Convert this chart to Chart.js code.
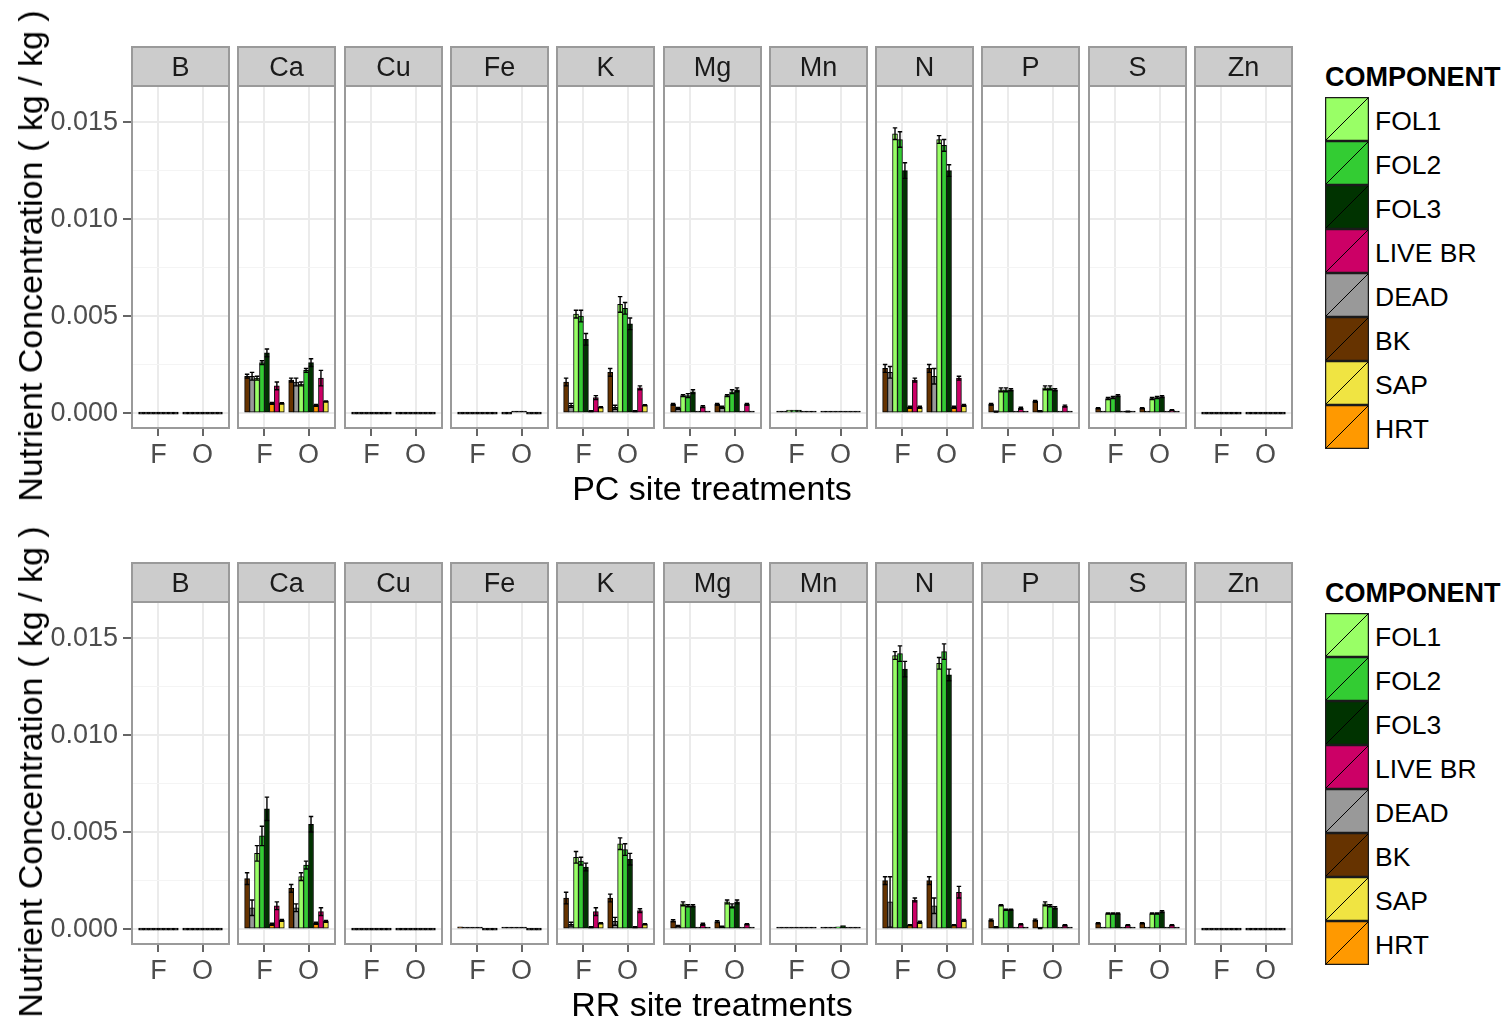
<!DOCTYPE html>
<html lang="en">
<head>
<meta charset="utf-8">
<title>Nutrient concentration by tree component</title>
<script src="https://cdn.jsdelivr.net/npm/chart.js@4.4.1/dist/chart.umd.min.js"></script>
<style>
  html, body { margin: 0; padding: 0; background: #fff; }
  body { position: relative; width: 1505px; height: 1022px; overflow: hidden;
         font-family: "Liberation Sans", Arial, Helvetica, sans-serif; }
  canvas.panel { position: absolute; }
  .xtitle { position: absolute; left: 132px; width: 1160px; text-align: center;
            font-size: 34px; line-height: 40px; color: #000; white-space: nowrap; }
  .ytitle { position: absolute; left: 30px; width: 0; height: 0; }
  .ytitle span { position: absolute; left: 0; top: 0; transform: translate(-50%, -50%) rotate(-90deg);
                 font-size: 34px; line-height: 40px; color: #000; white-space: nowrap; }
  .legend { position: absolute; left: 1325px; }
  .legend .ltitle { font-size: 27px; font-weight: bold; line-height: 32px; height: 36px; color: #000; }
  .legend .key { display: flex; align-items: center; height: 44px; }
  .legend .key svg { display: block; flex: none; }
  .legend .key span { font-size: 26.5px; margin-left: 6px; margin-top: 4px; color: #000; white-space: nowrap; }
</style>
</head>
<body>
<script>
// ---- categories ----
const nutrients  = ['B', 'Ca', 'Cu', 'Fe', 'K', 'Mg', 'Mn', 'N', 'P', 'S', 'Zn'];
const treatments = ['F', 'O'];
const components = ['BK', 'DEAD', 'FOL1', 'FOL2', 'FOL3', 'HRT', 'LIVE BR', 'SAP'];
const componentColors = ['#663300', '#999999', '#99FF66', '#33CC33', '#003300', '#FF9900', '#CC0066', '#F0E442'];
const legendOrder = ['FOL1', 'FOL2', 'FOL3', 'LIVE BR', 'DEAD', 'BK', 'SAP', 'HRT'];
const sites = ['PC', 'RR'];
const yTickValues = [0, 0.0025, 0.005, 0.0075, 0.010, 0.0125, 0.015];

// ---- mean concentration (kg/kg): one row per nutrient, [F values, O values], components in order above ----
const pcMean = [
  [[0, 0, 0, 0, 0, 0, 0, 0], [0, 0, 0, 0, 0, 0, 0, 0]],                                                       // B
  [[0.0019, 0.0019, 0.0018, 0.0026, 0.0031, 0.0005, 0.0014, 0.0005], [0.0017, 0.0016, 0.0015, 0.0022, 0.0026, 0.0004, 0.0018, 0.0006]], // Ca
  [[0, 0, 0, 0, 0, 0, 0, 0], [0, 0, 0, 0, 0, 0, 0, 0]],                                                       // Cu
  [[0, 0, 0, 0, 0, 0, 0, 0], [0, 0, 0.00004, 0.00004, 0.00004, 0, 0, 0]],                                     // Fe
  [[0.0016, 0.0004, 0.0051, 0.0050, 0.0038, 0.0001, 0.0008, 0.0003], [0.0021, 0.0003, 0.0056, 0.0054, 0.0046, 0.0001, 0.0013, 0.0004]], // K
  [[0.00045, 0.00024, 0.0009, 0.0009, 0.0011, 0.00003, 0.00033, 0.0001], [0.00045, 0.0003, 0.0009, 0.0011, 0.0012, 0.00003, 0.00045, 0.0001]], // Mg
  [[0.00005, 0.00002, 0.00015, 0.00015, 0.00015, 0.00001, 0.00003, 0.00001], [0.00002, 0.00002, 0.0001, 0.0001, 0.0001, 0.00001, 0.00002, 0.00001]], // Mn
  [[0.0023, 0.0021, 0.0144, 0.0141, 0.0125, 0.0003, 0.0017, 0.0003], [0.0023, 0.0019, 0.0141, 0.0138, 0.0125, 0.0003, 0.0018, 0.0004]], // N
  [[0.00045, 0.00007, 0.0012, 0.0012, 0.0012, 0.00002, 0.00025, 0.00005], [0.0006, 0.0001, 0.0013, 0.0013, 0.0012, 0.00002, 0.00036, 0.00005]], // P
  [[0.00025, 0.00005, 0.00075, 0.0008, 0.0009, 0.00001, 0.00008, 0.00008], [0.00025, 0.00005, 0.00075, 0.0008, 0.00085, 0.00001, 0.00015, 0.00003]], // S
  [[0, 0, 0, 0, 0, 0, 0, 0], [0, 0, 0, 0, 0, 0, 0, 0]]                                                        // Zn
];
const pcErr = [
  [[0, 0, 0, 0, 0, 0, 0, 0], [0, 0, 0, 0, 0, 0, 0, 0]],
  [[0.0001, 0.0002, 0.0001, 0.0001, 0.0002, 0.00005, 0.0002, 0.00003], [0.0001, 0.0002, 0.0001, 0.0001, 0.0002, 0.00005, 0.0004, 0.00003]],
  [[0, 0, 0, 0, 0, 0, 0, 0], [0, 0, 0, 0, 0, 0, 0, 0]],
  [[0, 0, 0, 0, 0, 0, 0, 0], [0, 0, 0, 0, 0, 0, 0, 0]],
  [[0.0002, 0.0001, 0.0002, 0.0003, 0.0003, 0.00002, 0.0001, 0.00003], [0.0002, 0.0001, 0.0004, 0.0003, 0.0003, 0.00002, 0.0001, 0.00003]],
  [[0.00005, 0.00005, 0.00005, 0.0001, 0.0001, 0, 0.00005, 0], [0.00005, 0.00005, 0.00005, 0.0001, 0.0001, 0, 0.00005, 0]],
  [[0, 0, 0, 0, 0, 0, 0, 0], [0, 0, 0, 0, 0, 0, 0, 0]],
  [[0.0002, 0.0003, 0.0003, 0.0004, 0.0004, 0.00005, 0.0001, 0.00005], [0.0002, 0.0004, 0.0002, 0.0003, 0.0003, 0.00005, 0.0001, 0.00005]],
  [[0.00005, 0.00002, 0.0001, 0.0001, 0.00005, 0, 0.00005, 0], [0.00005, 0.00002, 0.0001, 0.0001, 0.00005, 0, 0.00005, 0]],
  [[0.00003, 0, 0.00005, 0.00005, 0.00005, 0, 0.00002, 0], [0.00003, 0, 0.00005, 0.00005, 0.00005, 0, 0.00002, 0]],
  [[0, 0, 0, 0, 0, 0, 0, 0], [0, 0, 0, 0, 0, 0, 0, 0]]
];
const rrMean = [
  [[0, 0, 0, 0, 0, 0, 0, 0], [0, 0, 0, 0, 0, 0, 0, 0]],                                                       // B
  [[0.0026, 0.0011, 0.0039, 0.0048, 0.0062, 0.00025, 0.0012, 0.00045], [0.0021, 0.0011, 0.0027, 0.0033, 0.0054, 0.0003, 0.0009, 0.0004]], // Ca
  [[0, 0, 0, 0, 0, 0, 0, 0], [0, 0, 0, 0, 0, 0, 0, 0]],                                                       // Cu
  [[0.00012, 0.00005, 0.0001, 0.0001, 0.00005, 0, 0, 0], [0.00003, 0.00003, 0.0001, 0.0001, 0.0001, 0, 0, 0]], // Fe
  [[0.0016, 0.00025, 0.0037, 0.0035, 0.0032, 0.0001, 0.0009, 0.0003], [0.0016, 0.0004, 0.0044, 0.0041, 0.0036, 0.0001, 0.00095, 0.00025]], // K
  [[0.00043, 0.00015, 0.0013, 0.0012, 0.0012, 0.00002, 0.00025, 0.00008], [0.00038, 0.00012, 0.0014, 0.0012, 0.0014, 0.00002, 0.00025, 0.00005]], // Mg
  [[0.00002, 0.00002, 0.0001, 0.0001, 0.0001, 0.00001, 0.00002, 0.00001], [0.00002, 0.00003, 0.0001, 0.00012, 0.00018, 0.00001, 0.00002, 0.00001]], // Mn
  [[0.0025, 0.0014, 0.0141, 0.0142, 0.0134, 0.0002, 0.0015, 0.00035], [0.0025, 0.0012, 0.0137, 0.0143, 0.0131, 0.0002, 0.0019, 0.00045]], // N
  [[0.00046, 0.0001, 0.00123, 0.001, 0.001, 0.00001, 0.00025, 0.0001], [0.00046, 0.00005, 0.0013, 0.0012, 0.0011, 0.00001, 0.0002, 0.00005]], // P
  [[0.0003, 0.0001, 0.0008, 0.0008, 0.0008, 0.00001, 0.0002, 0.0001], [0.0003, 0.0001, 0.0008, 0.0008, 0.0009, 0.00001, 0.0002, 0.00005]], // S
  [[0, 0, 0, 0, 0, 0, 0, 0], [0, 0, 0, 0, 0, 0, 0, 0]]                                                        // Zn
];
const rrErr = [
  [[0, 0, 0, 0, 0, 0, 0, 0], [0, 0, 0, 0, 0, 0, 0, 0]],
  [[0.0003, 0.0004, 0.0004, 0.0005, 0.0006, 0.00005, 0.0002, 0.00005], [0.0002, 0.0002, 0.0002, 0.0002, 0.0004, 0.00005, 0.0002, 0.00005]],
  [[0, 0, 0, 0, 0, 0, 0, 0], [0, 0, 0, 0, 0, 0, 0, 0]],
  [[0, 0, 0, 0, 0, 0, 0, 0], [0, 0, 0, 0, 0, 0, 0, 0]],
  [[0.0003, 0.0001, 0.0003, 0.0002, 0.0002, 0.00002, 0.0002, 0.00003], [0.0002, 0.0002, 0.0003, 0.0003, 0.0003, 0.00002, 0.0001, 0.00003]],
  [[0.00005, 0.00003, 0.0001, 0.00005, 0.00005, 0, 0.00005, 0], [0.00005, 0.00003, 0.0001, 0.0001, 0.0001, 0, 0.00003, 0]],
  [[0, 0, 0, 0, 0, 0, 0, 0], [0, 0, 0, 0, 0, 0, 0, 0]],
  [[0.0002, 0.0013, 0.0002, 0.0004, 0.0004, 0.00003, 0.0001, 0.00005], [0.0002, 0.0004, 0.0003, 0.0004, 0.0003, 0.00003, 0.0003, 0.00005]],
  [[0.00005, 0.00002, 0.00003, 0.00003, 0.00003, 0, 0.00003, 0], [0.00005, 0.00002, 0.0001, 0.00005, 0.00005, 0, 0.00003, 0]],
  [[0.00003, 0, 0.00003, 0.00003, 0.00003, 0, 0.00002, 0], [0.00003, 0, 0.00003, 0.00003, 0.00005, 0, 0.00002, 0]],
  [[0, 0, 0, 0, 0, 0, 0, 0], [0, 0, 0, 0, 0, 0, 0, 0]]
];

// ---- layout ----
const FONT = '"Liberation Sans", Arial, Helvetica, sans-serif';
const ROW_TOP = [47, 563];       // top of the strip row
const STRIP_H = 39;
const PLOT_H = 342;
const X_AXIS_H = 52;
const PANEL_W = 97;
const FIRST_LEFT = 132, PITCH = 106.3;
const Y_AXIS_W = 132;
const PAD = 3;
const Y_MIN = -0.00077, Y_MAX = 0.01686;
const X_MIN = 0.4, X_MAX = 2.6;
const DODGE = 0.9;
const OUTLINE_ONLY = 0.00012;    // bars this short are all outline

const isMajor = v => Math.abs(v / 0.005 - Math.round(v / 0.005)) < 1e-6;

// grey strip behind each facet label
const stripPlugin = {
  id: 'strip',
  beforeDraw(chart) {
    const { ctx, chartArea: ca, titleBlock: tb } = chart;
    ctx.save();
    ctx.fillStyle = '#CCCCCC';
    ctx.fillRect(ca.left, tb.top, ca.right - ca.left, ca.top - tb.top);
    ctx.strokeStyle = '#9A9A9A';
    ctx.lineWidth = 2;
    ctx.strokeRect(ca.left, tb.top, ca.right - ca.left, ca.top - tb.top);
    ctx.restore();
  }
};

// mean ± error whiskers on each bar
const errorBarPlugin = {
  id: 'errorBars',
  afterDatasetsDraw(chart) {
    const { ctx, chartArea: ca } = chart;
    const y = chart.scales.y;
    ctx.save();
    ctx.beginPath();
    ctx.rect(ca.left, ca.top, ca.right - ca.left, ca.bottom - ca.top);
    ctx.clip();
    ctx.strokeStyle = '#000';
    ctx.lineWidth = 1.4;
    chart.data.datasets.forEach((ds, d) => {
      chart.getDatasetMeta(d).data.forEach((bar, i) => {
        const err = ds.errorValues[i];
        if (!err) return;
        const m = ds.data[i].y;
        const hi = y.getPixelForValue(m + err);
        const lo = y.getPixelForValue(Math.max(m - err, 0));
        const half = bar.width * 0.45;
        ctx.beginPath();
        ctx.moveTo(bar.x, lo); ctx.lineTo(bar.x, hi);
        ctx.moveTo(bar.x - half, hi); ctx.lineTo(bar.x + half, hi);
        ctx.moveTo(bar.x - half, lo); ctx.lineTo(bar.x + half, lo);
        ctx.stroke();
      });
    });
    ctx.restore();
  }
};

// grey frame around each panel
const framePlugin = {
  id: 'frame',
  afterDraw(chart) {
    const { ctx, chartArea: ca } = chart;
    ctx.save();
    ctx.strokeStyle = '#9A9A9A';
    ctx.lineWidth = 2;
    ctx.strokeRect(ca.left, ca.top, ca.right - ca.left, ca.bottom - ca.top);
    ctx.restore();
  }
};

function buildPanel(siteIdx, nIdx, means, errs) {
  const first = nIdx === 0;
  const panelLeft = Math.round(FIRST_LEFT + nIdx * PITCH);
  const canvas = document.createElement('canvas');
  canvas.className = 'panel';
  const left = first ? 0 : panelLeft - PAD;
  const width = first ? Y_AXIS_W + PANEL_W + PAD : PANEL_W + 2 * PAD;
  const height = PAD + STRIP_H + PLOT_H + X_AXIS_H;
  canvas.width = width; canvas.height = height;
  canvas.style.left = left + 'px';
  canvas.style.top = (ROW_TOP[siteIdx] - PAD) + 'px';
  canvas.style.width = width + 'px'; canvas.style.height = height + 'px';
  document.body.appendChild(canvas);

  const datasets = components.map((comp, c) => ({
    label: comp,
    data: treatments.map((t, ti) => ({
      x: ti + 1 + (c - (components.length - 1) / 2) * (DODGE / components.length),
      y: means[nIdx][ti][c]
    })),
    errorValues: treatments.map((t, ti) => errs[nIdx][ti][c]),
    backgroundColor: ctx => (ctx.raw && ctx.raw.y < OUTLINE_ONLY) ? '#000' : componentColors[c],
    borderColor: '#000',
    borderWidth: 1,
    borderSkipped: false,
    minBarLength: 2,
    grouped: false,
    categoryPercentage: 1,
    barPercentage: 1
  }));

  new Chart(canvas, {
    type: 'bar',
    data: { datasets },
    options: {
      responsive: false,
      animation: false,
      events: [],
      layout: { padding: { left: first ? 0 : PAD, right: PAD, top: PAD, bottom: 0 } },
      plugins: {
        legend: { display: false },
        tooltip: { enabled: false },
        title: {
          display: true, text: nutrients[nIdx], fullSize: false, position: 'top', align: 'center',
          color: '#1A1A1A', font: { family: FONT, size: 27, weight: 'normal', lineHeight: 1.2 },
          padding: { top: 5.3, bottom: 1.3 }
        }
      },
      scales: {
        x: {
          type: 'linear', min: X_MIN, max: X_MAX, offset: false,
          afterBuildTicks: s => { s.ticks = treatments.map((t, i) => ({ value: i + 1 })); },
          afterFit: s => { s.height = X_AXIS_H; },
          ticks: {
            callback: v => treatments[Math.round(v) - 1],
            color: '#4D4D4D', font: { family: FONT, size: 27 }, padding: 3,
            autoSkip: false, maxRotation: 0, minRotation: 0
          },
          grid: { offset: false, color: '#EBEBEB', lineWidth: 2, tickColor: '#333333', tickLength: 8, tickWidth: 1.5 },
          border: { display: false }
        },
        y: {
          type: 'linear', min: Y_MIN, max: Y_MAX,
          afterBuildTicks: s => { s.ticks = yTickValues.map(v => ({ value: v })); },
          afterFit: s => { s.width = first ? Y_AXIS_W : 0; },
          ticks: {
            display: first,
            callback: v => isMajor(v) ? v.toFixed(3) : '',
            color: '#4D4D4D', font: { family: FONT, size: 27 }, padding: 5
          },
          grid: {
            drawTicks: first,
            color: ctx => isMajor(ctx.tick.value) ? '#EBEBEB' : '#F4F4F4',
            lineWidth: ctx => isMajor(ctx.tick.value) ? 2 : 1,
            tickColor: ctx => isMajor(ctx.tick.value) ? '#333333' : 'rgba(0,0,0,0)',
            tickLength: 9, tickWidth: 1.5
          },
          border: { display: false }
        }
      }
    },
    plugins: [stripPlugin, errorBarPlugin, framePlugin]
  });
}

function buildLegend(siteIdx) {
  const box = document.createElement('div');
  box.className = 'legend';
  box.style.top = (ROW_TOP[siteIdx] + 14) + 'px';
  const title = document.createElement('div');
  title.className = 'ltitle';
  title.textContent = 'COMPONENT';
  box.appendChild(title);
  legendOrder.forEach(name => {
    const color = componentColors[components.indexOf(name)];
    const row = document.createElement('div');
    row.className = 'key';
    row.innerHTML =
      '<svg width="44" height="44" viewBox="0 0 44 44">' +
      '<rect x="0.5" y="0.5" width="43" height="43" fill="' + color + '" stroke="#1a1a1a" stroke-width="1.5"/>' +
      '<line x1="1" y1="43" x2="43" y2="1" stroke="#000" stroke-width="1"/></svg>';
    const label = document.createElement('span');
    label.textContent = name;
    row.appendChild(label);
    box.appendChild(row);
  });
  document.body.appendChild(box);
}

function buildTitles(siteIdx) {
  const t = document.createElement('div');
  t.className = 'xtitle';
  t.style.top = (ROW_TOP[siteIdx] + 421) + 'px';
  t.textContent = sites[siteIdx] + ' site treatments';
  document.body.appendChild(t);

  const y = document.createElement('div');
  y.className = 'ytitle';
  y.style.top = (ROW_TOP[siteIdx] + STRIP_H + PLOT_H / 2 - 1) + 'px';
  const s = document.createElement('span');
  s.textContent = 'Nutrient Concentration ( kg / kg )';
  y.appendChild(s);
  document.body.appendChild(y);
}

[[pcMean, pcErr], [rrMean, rrErr]].forEach(([means, errs], s) => {
  nutrients.forEach((n, i) => buildPanel(s, i, means, errs));
  buildTitles(s);
  buildLegend(s);
});
</script>
</body>
</html>
